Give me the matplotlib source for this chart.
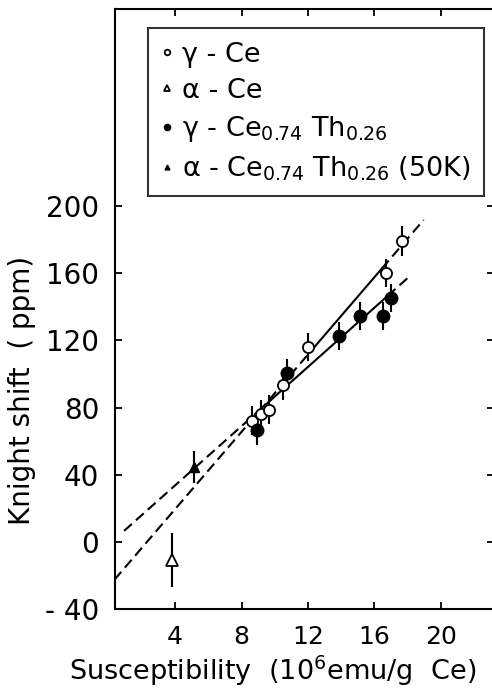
import matplotlib
matplotlib.use("Agg")
import matplotlib.pyplot as plt
import numpy as np

plt.rcParams['font.family'] = ['DejaVu Sans']
plt.rcParams['mathtext.default'] = 'regular'

# gamma-Ce (open circles)
g_ce_x = [8.62, 9.16, 9.66, 10.47, 12.01, 16.69, 17.69]
g_ce_y = [72.3, 76.2, 78.8, 93.3, 116.0, 160.2, 179.0]
g_ce_err = [8.5, 8.5, 8.5, 8.5, 8.5, 8.5, 9.0]

# alpha-Ce (open triangle)
a_ce_x = [3.84]
a_ce_y = [-10.5]
a_ce_err = [16.0]

# gamma-Ce0.74Th0.26 (filled circles)
g_th_x = [8.90, 10.73, 13.84, 15.12, 16.53, 16.97]
g_th_y = [66.5, 100.4, 122.6, 134.6, 134.5, 145.3]
g_th_err = [8.5, 8.5, 8.5, 8.5, 8.5, 8.5]

# alpha-Ce0.74Th0.26 (50K) (filled triangle)
a_th_x = [5.16]
a_th_y = [44.6]
a_th_err = [9.5]

# fit lines: (x start, x solid start, x solid end, x end) and intercept/slope
fit_g_ce_x = [0.35, 12.2, 16.45, 18.96]
fit_g_ce_a, fit_g_ce_b = -26.4, 11.5
fit_g_th_x = [0.93, 9.8, 16.8, 18.05]
fit_g_th_a, fit_g_th_b = -1.5, 8.81

xticks = [4, 8, 12, 16, 20]
yticks = [-40, 0, 40, 80, 120, 160, 200]
ytick_labels = ['- 40', '0', '40', '80', '120', '160', '200']

W, H = 492, 690
ax_l, ax_r, ax_b, ax_t = 114.5, 494.0, 609.3, 9.3
fig = plt.figure(figsize=(W / 100, H / 100), dpi=100)
ax = fig.add_axes([ax_l / W, (H - ax_b) / H, (ax_r - ax_l) / W, (ax_b - ax_t) / H])

lw = 1.5
for xs, a, b in [(fit_g_ce_x, fit_g_ce_a, fit_g_ce_b), (fit_g_th_x, fit_g_th_a, fit_g_th_b)]:
    xs = np.array(xs)
    ys = a + b * xs
    ax.plot(xs[0:2], ys[0:2], color='black', lw=lw, ls=(0, (5, 2.6)))
    ax.plot(xs[1:3], ys[1:3], color='black', lw=lw, ls='-')
    ax.plot(xs[2:4], ys[2:4], color='black', lw=lw, ls=(0, (5, 2.6)))

for x, y, e in [(g_ce_x, g_ce_y, g_ce_err), (a_ce_x, a_ce_y, a_ce_err),
                (g_th_x, g_th_y, g_th_err), (a_th_x, a_th_y, a_th_err)]:
    ax.errorbar(x, y, yerr=e, fmt='none', ecolor='black', elinewidth=1.5, capsize=0, zorder=2)

h1, = ax.plot(g_ce_x, g_ce_y, 'o', ms=8, mfc='white', mec='black', mew=1.3, zorder=3,
              label='γ - Ce')
h2, = ax.plot(a_ce_x, a_ce_y, '^', ms=8, mfc='white', mec='black', mew=1.3, zorder=3,
              label='α - Ce')
h3, = ax.plot(g_th_x, g_th_y, 'o', ms=9, mfc='black', mec='black', zorder=3,
              label='γ - Ce$_{0.74}$ Th$_{0.26}$')
h4, = ax.plot(a_th_x, a_th_y, '^', ms=7, mfc='black', mec='black', zorder=3,
              label='α - Ce$_{0.74}$ Th$_{0.26}$ (50K)')

ax.set_xlim(0.35, 23.2)
ax.set_ylim(-40, 317)
ax.set_xticks(xticks)
ax.set_yticks(yticks)
ax.set_yticklabels(ytick_labels)
ax.tick_params(direction='in', length=5, width=1.3, top=True, right=True)
ax.tick_params(axis='y', labelsize=20, pad=11)
ax.tick_params(axis='x', labelsize=18, pad=11)
for s in ax.spines.values():
    s.set_linewidth(1.5)

ax.set_xlabel('Susceptibility  (10$^{6}$emu/g  Ce)', fontsize=19.5)
ax.xaxis.set_label_coords((273 - ax_l) / (ax_r - ax_l), -(671 - ax_b) / (ax_b - ax_t))
ax.xaxis.label.set_va('center')
ax.set_ylabel('Knight shift  ( ppm)', fontsize=20)
ax.yaxis.set_label_coords(-(ax_l - 22) / (ax_r - ax_l), (ax_b - 390) / (ax_b - ax_t))
ax.yaxis.label.set_va('center')

leg = ax.legend(handles=[h1, h2, h3, h4], loc='upper left',
                bbox_to_anchor=((148 - ax_l) / (ax_r - ax_l), 1 - (28 - ax_t) / (ax_b - ax_t)),
                fontsize=19.5, markerscale=0.5, handlelength=0.4, handletextpad=0.35,
                labelspacing=0.38, borderpad=0.5, fancybox=False, frameon=True,
                edgecolor='black', borderaxespad=0)
leg.get_frame().set_linewidth(1.5)

fig.savefig('out.png', dpi=100)
